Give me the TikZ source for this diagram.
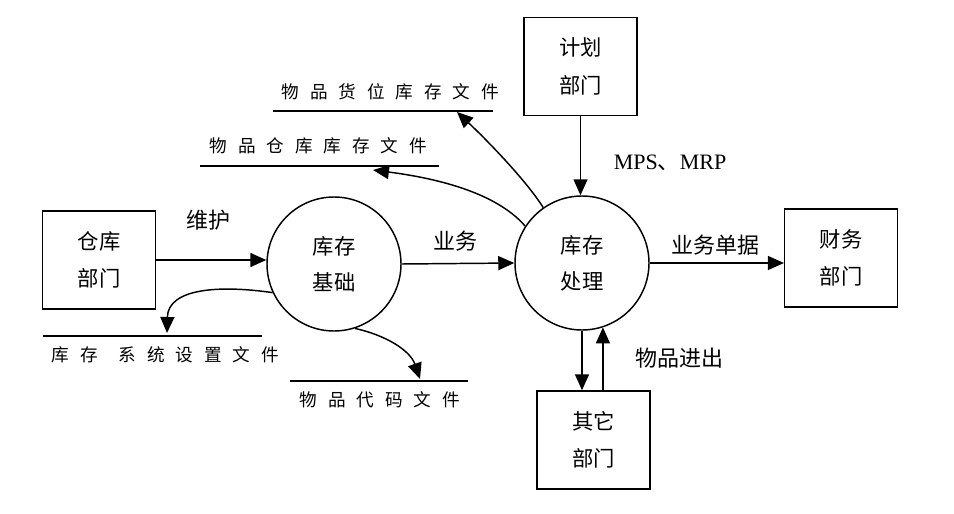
\documentclass[tikz,border=0pt]{standalone}
\usepackage{fontspec}
\setmainfont{Liberation Serif}
\newfontfamily\cjk{Noto Sans CJK SC}
\newcommand\gapc{\hspace{8.2pt}}
\usetikzlibrary{arrows.meta}
\begin{document}
\begin{tikzpicture}[x=0.75pt,y=-0.75pt,
  line width=1.1pt,
  >={Triangle[length=12pt,width=10.5pt]},
  ent/.style={draw, rectangle, minimum width=84.5pt, minimum height=73.5pt, align=center, font=\cjk\fontsize{16}{28}\selectfont, inner sep=0pt},
  proc/.style={draw, circle, minimum size=100.5pt, align=center, font=\cjk\fontsize{16}{27}\selectfont, inner sep=0pt},
  lbl/.style={font=\cjk\fontsize{16.5}{20}\selectfont, inner sep=0pt},
  flbl/.style={font=\cjk\fontsize{13.2}{15}\selectfont, inner sep=0pt, anchor=west},
  store/.style={line width=1.3pt},
  flow/.style={->}
]
\useasboundingbox[fill=white] (0,0) rectangle (954,514);

% entities and processes
\node[ent] (cangku) at (99,260) {仓库\\部门};
\node[ent] (jihua) at (580.5,66.5) {计划\\部门};
\node[ent] (caiwu) at (841,258) {财务\\部门};
\node[ent] (qita) at (593.5,440) {其它\\部门};
\node[proc] (jichu) at (334,264) {库存\\基础};
\node[proc] (chuli) at (582,263) {库存\\处理};

% data stores
\coordinate (f1a) at (273,111); \coordinate (f1b) at (493,111);
\coordinate (f2a) at (200,166); \coordinate (f2b) at (439,166);
\coordinate (f3a) at (43,336);  \coordinate (f3b) at (262,336);
\coordinate (f4a) at (290,381); \coordinate (f4b) at (468,381);
\draw[store] (f1a) -- (f1b);
\draw[store] (f2a) -- (f2b);
\draw[store] (f3a) -- (f3b);
\draw[store] (f4a) -- (f4b);
\node[flbl] (f1t) at (281,92) {物\gapc{}品\gapc{}货\gapc{}位\gapc{}库\gapc{}存\gapc{}文\gapc{}件};
\node[flbl] (f2t) at (209,146) {物\gapc{}品\gapc{}仓\gapc{}库\gapc{}库\gapc{}存\gapc{}文\gapc{}件};
\node[flbl] (f3t) at (51,355) {库\gapc{}存\gapc{}\hspace{7.5pt}系\gapc{}统\gapc{}设\gapc{}置\gapc{}文\gapc{}件};
\node[flbl] (f4t) at (299,400) {物\gapc{}品\gapc{}代\gapc{}码\gapc{}文\gapc{}件};

% labels
\node[lbl] (weihu) at (208,220) {维护};
\node[lbl] (yewu) at (455,241) {业务};
\node[lbl] (danju) at (715,245) {业务单据};
\node[lbl] (jinchu) at (679,358) {物品进出};
\node[font=\fontsize{16.5}{20}\selectfont, inner sep=0pt] (mps) at (670,163) {MPS{\cjk 、}MRP};

% straight flows
\draw[flow] (cangku.east) -- (cangku.east -| jichu.west);
\draw[flow] (jichu.east) -- (chuli.west);
\draw[flow] (chuli.east) -- (chuli.east -| caiwu.west);
\draw[flow] (jihua.south) -- (jihua.south |- chuli.north);
\draw[flow] (chuli.south) -- (chuli.south |- qita.north);
\draw[flow] (qita.north -| chuli.-72) -- (chuli.-72);

% curved flows to stores
\coordinate (t1) at (457,112);
\coordinate (t2) at (373,170);
\coordinate (t3) at (167,333);
\coordinate (t4) at (420,379);
\draw[flow] (chuli.125) .. controls (528,183) and (490,143) .. (t1);
\draw[flow] (chuli.147) .. controls (500,197) and (450,180) .. (t2);
\draw[flow] (jichu.205) .. controls (220,285) and (168,288) .. (t3);
\draw[flow] (jichu.-72) .. controls (385,335) and (410,350) .. (t4);
\end{tikzpicture}
\end{document}
